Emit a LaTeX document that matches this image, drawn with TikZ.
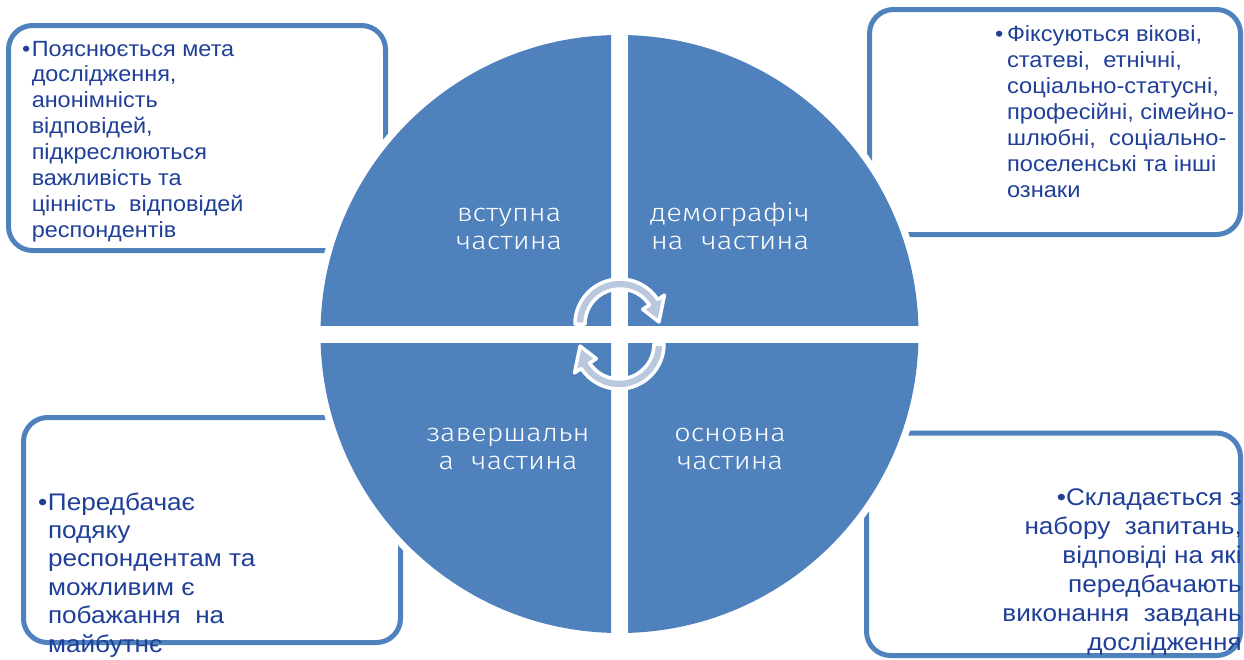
\documentclass[tikz,border=0pt]{standalone}
\usepackage{fontspec}
\setmainfont{Liberation Sans}
\newfontfamily\labfont{Fira Sans Light}
\definecolor{accent}{HTML}{4F81BD}
\definecolor{txtblue}{HTML}{1F3F99}
\definecolor{arrowfill}{HTML}{B9C8DE}
\begin{document}
\begin{tikzpicture}[x=1pt,y=-1pt,
  box/.style={draw=accent, line width=5pt, rounded corners=24pt, fill=white},
  boxtext/.style={inner sep=0pt, text=txtblue},
  quadlabel/.style={inner sep=0pt, text=white, anchor=base, font=\labfont\fontsize{25}{28}\selectfont},
  cyclearrow/.style={fill=arrowfill, draw=white, line width=3.5pt, line join=round}
]
\useasboundingbox (0,0) rectangle (1244,659);
% boxes
\draw[box] (8.5,25.5) rectangle (385.5,250.5);
\draw[box] (869.5,9.5) rectangle (1240.5,234.5);
\draw[box] (23.5,417.5) rectangle (400.5,642.5);
\draw[box] (866.5,433) rectangle (1240.5,655.5);
% circle
\coordinate (c) at (619.5,334);
\fill[white] (c) circle (306);
\begin{scope}\clip (0,0) rectangle (611,325); \fill[accent] (c) circle (299); \end{scope}
\begin{scope}\clip (628,0) rectangle (1244,325); \fill[accent] (c) circle (299); \end{scope}
\begin{scope}\clip (0,343) rectangle (611,659); \fill[accent] (c) circle (299); \end{scope}
\begin{scope}\clip (628,343) rectangle (1244,659); \fill[accent] (c) circle (299); \end{scope}
% cycle arrows
\coordinate (atop) at (620,324);
\coordinate (abot) at (619,344);
\begin{scope}[shift={(atop)}, x=1pt, y=1pt]
\filldraw[cyclearrow] (180:45) arc[start angle=180, end angle=33, radius=45] -- (33:53) -- (3:39) -- (33:27) -- (33:35) arc[start angle=33, end angle=180, radius=35] -- cycle;
\end{scope}
\begin{scope}[shift={(abot)}, x=1pt, y=1pt, rotate=180]
\filldraw[cyclearrow] (180:45) arc[start angle=180, end angle=33, radius=45] -- (33:53) -- (3:39) -- (33:27) -- (33:35) arc[start angle=33, end angle=180, radius=35] -- cycle;
\end{scope}
% quadrant labels
\node[quadlabel] (q1) at (509,221) {\scalebox{1.15}[1]{\parbox[t]{200pt}{\centering вступна\\частина}}};
\node[quadlabel] (q2) at (730,221) {\scalebox{1.17}[1]{\parbox[t]{200pt}{\centering демографіч\\на\hspace{0.6em}частина}}};
\node[quadlabel] (q3) at (508,441) {\scalebox{1.15}[1]{\parbox[t]{200pt}{\centering завершальн\\а\hspace{0.6em}частина}}};
\node[quadlabel] (q4) at (730,441) {\scalebox{1.15}[1]{\parbox[t]{200pt}{\centering основна\\частина}}};
% box texts
\node[boxtext, anchor=base west] (t1) at (22,56) {\fontsize{22}{25.9}\selectfont\scalebox{1.065}[1]{\parbox[t]{320pt}{\raggedright\hangindent=9pt\hangafter=1\noindent\makebox[9pt][l]{•}Пояснюється мета\newline дослідження,\newline анонімність\newline відповідей,\newline підкреслюються\newline важливість та\newline цінність\ \ відповідей\newline респондентів}}};
\node[boxtext, anchor=base west] (t2) at (995,41) {\fontsize{22}{26}\selectfont\scalebox{1.075}[1]{\parbox[t]{225pt}{\raggedright\hangindent=11pt\hangafter=1\noindent\makebox[11pt][l]{•}Фіксуються вікові,\newline статеві,\ \ етнічні,\newline соціально-статусні,\newline професійні, сімейно-\newline шлюбні,\ \ соціально-\newline поселенські та інші\newline ознаки}}};
\node[boxtext, anchor=base west] (t3) at (38,510) {\fontsize{24}{28.4}\selectfont\scalebox{1.09}[1]{\parbox[t]{320pt}{\raggedright\hangindent=9pt\hangafter=1\noindent\makebox[9pt][l]{•}Передбачає\newline подяку\newline респондентам та\newline можливим є\newline побажання\ \ на\newline майбутнє}}};
\node[boxtext, anchor=base east] (t4) at (1242,505) {\fontsize{24}{29}\selectfont\scalebox{1.09}[1]{\parbox[t]{340pt}{\raggedleft •Складається з\\набору\ \ запитань,\\відповіді на які\\передбачають\\виконання\ \ завдань\\дослідження}}};
\end{tikzpicture}
\end{document}
